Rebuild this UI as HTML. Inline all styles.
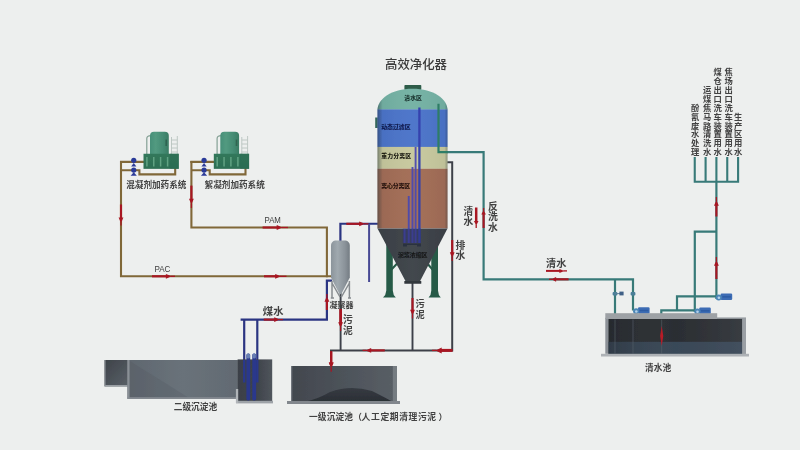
<!DOCTYPE html>
<html lang="zh"><head><meta charset="utf-8"><title>高效净化器 工艺流程图</title>
<style>
html,body{margin:0;padding:0;background:#edefee;}
body{width:800px;height:450px;overflow:hidden;font-family:"Liberation Sans","Noto Sans CJK SC",sans-serif;}
svg{display:block;position:absolute;left:0;top:0;}
svg text{font-family:"Liberation Sans","Noto Sans CJK SC",sans-serif;}
.sr{position:absolute;left:0;top:0;width:1px;height:1px;overflow:hidden;clip:rect(0 0 0 0);clip-path:inset(50%);opacity:0;white-space:nowrap;font-size:1px;}
</style></head><body>
<svg width="800" height="450" viewBox="0 0 800 450" role="img" aria-label="高效净化器 工艺流程图">
<defs>
<linearGradient id="gcyl" x1="0" x2="1" y1="0" y2="0"><stop offset="0" stop-color="#468f78"/><stop offset="0.3" stop-color="#529a80"/><stop offset="0.7" stop-color="#448b73"/><stop offset="1" stop-color="#3a7c64"/></linearGradient>
<linearGradient id="gbase" x1="0" x2="0" y1="0" y2="1"><stop offset="0" stop-color="#32785b"/><stop offset="1" stop-color="#2d6e53"/></linearGradient>
<linearGradient id="gshell" x1="0" x2="1" y1="0" y2="0"><stop offset="0" stop-color="#20303a" stop-opacity="0.55"/><stop offset="0.035" stop-color="#20303a" stop-opacity="0.3"/><stop offset="0.08" stop-color="#20303a" stop-opacity="0.05"/><stop offset="0.5" stop-color="#fff" stop-opacity="0.03"/><stop offset="0.95" stop-color="#20303a" stop-opacity="0.05"/><stop offset="1" stop-color="#20303a" stop-opacity="0.4"/></linearGradient>
<linearGradient id="gcone" x1="0" x2="1" y1="0" y2="0"><stop offset="0" stop-color="#393e44"/><stop offset="0.5" stop-color="#43484e"/><stop offset="1" stop-color="#393e44"/></linearGradient>
<linearGradient id="gcoag" x1="0" x2="1" y1="0" y2="0"><stop offset="0" stop-color="#8b949b"/><stop offset="0.35" stop-color="#a0a9af"/><stop offset="0.75" stop-color="#8a9299"/><stop offset="1" stop-color="#747c83"/></linearGradient>
<linearGradient id="gt2a" x1="0" x2="1" y1="0" y2="1"><stop offset="0" stop-color="#3e4349"/><stop offset="1" stop-color="#596067"/></linearGradient>
<linearGradient id="gt2b" x1="0" x2="1" y1="0" y2="0"><stop offset="0" stop-color="#5f676f"/><stop offset="0.5" stop-color="#69727a"/><stop offset="1" stop-color="#626a72"/></linearGradient>
<linearGradient id="gt2c" x1="0" x2="1" y1="0" y2="0"><stop offset="0" stop-color="#3b4047"/><stop offset="0.6" stop-color="#40454c"/><stop offset="1" stop-color="#50555c"/></linearGradient>
<linearGradient id="gt1" x1="0" x2="1" y1="0" y2="0"><stop offset="0" stop-color="#42474e"/><stop offset="0.5" stop-color="#4d535a"/><stop offset="1" stop-color="#595f66"/></linearGradient>
<linearGradient id="gmound" x1="0" x2="0" y1="0" y2="1"><stop offset="0" stop-color="#363b42"/><stop offset="1" stop-color="#2b2f35"/></linearGradient>
<linearGradient id="gpool" x1="0" x2="1" y1="0" y2="0"><stop offset="0" stop-color="#1c2026" stop-opacity="0.35"/><stop offset="0.5" stop-color="#555" stop-opacity="0"/><stop offset="1" stop-color="#606870" stop-opacity="0.25"/></linearGradient>
<filter id="soft" x="-2%" y="-2%" width="104%" height="104%"><feGaussianBlur stdDeviation="0.55"/></filter>
<filter id="softt" x="-2%" y="-2%" width="104%" height="104%"><feGaussianBlur stdDeviation="0.65"/></filter>
</defs>
<rect width="800" height="450" fill="#edefee"/>
<g filter="url(#soft)"><path d="M120.00 161.9H144.00 M121.00 170.2H139.40V174.4H175.20V168" fill="none" stroke="#806739" stroke-width="2.1" stroke-linejoin="miter"/><path d="M171.50 137V154M177.30 136V154M171.50 140H177.30M171.50 144H177.30M171.50 148H177.30M171.50 152H177.30" stroke="#b9c4bf" stroke-width="0.9" fill="none"/><path d="M146.80 154V138.5Q146.80 135.6 151.00 135.6" stroke="#84a094" stroke-width="1.2" fill="none"/><path d="M150.00 154V136Q150.00 131.8 154.00 131.8H164.80Q168.80 131.8 168.80 136V154Z" fill="url(#gcyl)"/><path d="M166.20 139.5V146" stroke="#2b5b49" stroke-width="1.6" opacity="0.75"/><rect x="143.50" y="153.75" width="35.3" height="15.1" fill="url(#gbase)"/><rect x="169.80" y="153.75" width="9" height="15.1" fill="#2a6a50" opacity="0.5"/><rect x="146.15" y="157" width="1.5" height="9.5" fill="#6aaa8b" opacity="0.85"/><rect x="153.00" y="157" width="1.5" height="9.5" fill="#6aaa8b" opacity="0.85"/><rect x="159.85" y="157" width="1.5" height="9.5" fill="#6aaa8b" opacity="0.85"/><rect x="166.85" y="157" width="1.5" height="9.5" fill="#6aaa8b" opacity="0.85"/><g fill="#2b3a98"><circle cx="133.75" cy="160.3" r="2.6"/><path d="M131.15 166.4L133.75 162.9L136.35 166.4Z"/><circle cx="133.75" cy="170.1" r="2.6"/><path d="M130.65 175.8L133.75 172.2L136.85 175.8Z"/></g><path d="M190.30 161.9H214.30 M191.30 170.2H209.70V174.4H245.50V168" fill="none" stroke="#806739" stroke-width="2.1" stroke-linejoin="miter"/><path d="M241.80 137V154M247.60 136V154M241.80 140H247.60M241.80 144H247.60M241.80 148H247.60M241.80 152H247.60" stroke="#b9c4bf" stroke-width="0.9" fill="none"/><path d="M217.10 154V138.5Q217.10 135.6 221.30 135.6" stroke="#84a094" stroke-width="1.2" fill="none"/><path d="M220.30 154V136Q220.30 131.8 224.30 131.8H235.10Q239.10 131.8 239.10 136V154Z" fill="url(#gcyl)"/><path d="M236.50 139.5V146" stroke="#2b5b49" stroke-width="1.6" opacity="0.75"/><rect x="213.80" y="153.75" width="35.3" height="15.1" fill="url(#gbase)"/><rect x="240.10" y="153.75" width="9" height="15.1" fill="#2a6a50" opacity="0.5"/><rect x="216.45" y="157" width="1.5" height="9.5" fill="#6aaa8b" opacity="0.85"/><rect x="223.30" y="157" width="1.5" height="9.5" fill="#6aaa8b" opacity="0.85"/><rect x="230.15" y="157" width="1.5" height="9.5" fill="#6aaa8b" opacity="0.85"/><rect x="237.15" y="157" width="1.5" height="9.5" fill="#6aaa8b" opacity="0.85"/><g fill="#2b3a98"><circle cx="204.05" cy="160.3" r="2.6"/><path d="M201.45 166.4L204.05 162.9L206.65 166.4Z"/><circle cx="204.05" cy="170.1" r="2.6"/><path d="M200.95 175.8L204.05 172.2L207.15 175.8Z"/></g><path d="M121 161V276.3H327.9" fill="none" stroke="#806739" stroke-width="2.1"/><path d="M191.4 161V227.5H326.9V276.3H332" fill="none" stroke="#806739" stroke-width="2.1"/><line x1="121.00" y1="204.50" x2="121.00" y2="218.50" stroke="#a81622" stroke-width="2.15"/><line x1="121.00" y1="222.30" x2="121.00" y2="225.50" stroke="#a81622" stroke-width="1.3"/><polygon points="121.00,223.30 118.60,217.50 123.40,217.50" fill="#a81622"/><line x1="191.40" y1="185.60" x2="191.40" y2="199.70" stroke="#a81622" stroke-width="2.15"/><line x1="191.40" y1="203.50" x2="191.40" y2="208.00" stroke="#a81622" stroke-width="1.3"/><polygon points="191.40,204.50 189.00,198.70 193.80,198.70" fill="#a81622"/><line x1="262.60" y1="227.50" x2="277.70" y2="227.50" stroke="#a81622" stroke-width="2.15"/><line x1="281.50" y1="227.50" x2="288.00" y2="227.50" stroke="#a81622" stroke-width="1.3"/><polygon points="282.50,227.50 276.70,229.90 276.70,225.10" fill="#a81622"/><line x1="152.00" y1="276.30" x2="166.90" y2="276.30" stroke="#a81622" stroke-width="2.15"/><line x1="170.70" y1="276.30" x2="175.00" y2="276.30" stroke="#a81622" stroke-width="1.3"/><polygon points="171.70,276.30 165.90,278.70 165.90,273.90" fill="#a81622"/><line x1="264.00" y1="276.30" x2="276.20" y2="276.30" stroke="#a81622" stroke-width="2.15"/><line x1="280.00" y1="276.30" x2="286.50" y2="276.30" stroke="#a81622" stroke-width="1.3"/><polygon points="281.00,276.30 275.20,278.70 275.20,273.90" fill="#a81622"/><g fill="#3c3c3c" aria-label="PAM"><title>PAM</title><text x="264.51" y="223.20" font-size="9.7" textLength="16.4" lengthAdjust="spacingAndGlyphs">PAM</text></g><g fill="#3c3c3c" aria-label="PAC"><title>PAC</title><text x="154.41" y="272.40" font-size="9.7" textLength="16" lengthAdjust="spacingAndGlyphs">PAC</text></g><path d="M240.6 319.6H326.9V280.6H332" fill="none" stroke="#2c3582" stroke-width="2.2"/><path d="M244.2 319V382M257.3 319V382" fill="none" stroke="#2c3582" stroke-width="2.2"/><path d="M340.4 242V223.75H378" fill="none" stroke="#2c3582" stroke-width="2.2"/><path d="M369.1 223.75V282" fill="none" stroke="#464a94" stroke-width="2"/><line x1="263.75" y1="319.60" x2="275.20" y2="319.60" stroke="#a81622" stroke-width="2.15"/><line x1="279.00" y1="319.60" x2="283.00" y2="319.60" stroke="#a81622" stroke-width="1.3"/><polygon points="280.00,319.60 274.20,322.00 274.20,317.20" fill="#a81622"/><line x1="326.90" y1="310.00" x2="326.90" y2="300.80" stroke="#a81622" stroke-width="2.15"/><line x1="326.90" y1="297.00" x2="326.90" y2="294.00" stroke="#a81622" stroke-width="1.3"/><polygon points="326.90,296.00 329.30,301.80 324.50,301.80" fill="#a81622"/><line x1="346.30" y1="223.80" x2="360.20" y2="223.80" stroke="#a81622" stroke-width="2.15"/><line x1="364.00" y1="223.80" x2="368.50" y2="223.80" stroke="#a81622" stroke-width="1.3"/><polygon points="365.00,223.80 359.20,226.20 359.20,221.40" fill="#a81622"/><path d="M340.6 292V350.4M412.5 283V350.4" fill="none" stroke="#3d4149" stroke-width="1.9"/><path d="M447 162.3H452.2V350.4H331V366" fill="none" stroke="#3d4149" stroke-width="2"/><line x1="340.60" y1="309.00" x2="340.60" y2="323.20" stroke="#a81622" stroke-width="2.80"/><line x1="340.60" y1="327.00" x2="340.60" y2="331.00" stroke="#a81622" stroke-width="1.3"/><polygon points="340.60,328.00 338.20,322.20 343.00,322.20" fill="#a81622"/><line x1="412.50" y1="298.00" x2="412.50" y2="310.70" stroke="#a81622" stroke-width="2.15"/><line x1="412.50" y1="314.50" x2="412.50" y2="318.50" stroke="#a81622" stroke-width="1.3"/><polygon points="412.50,315.50 410.10,309.70 414.90,309.70" fill="#a81622"/><line x1="452.20" y1="240.00" x2="452.20" y2="253.20" stroke="#a81622" stroke-width="2.15"/><line x1="452.20" y1="257.00" x2="452.20" y2="261.00" stroke="#a81622" stroke-width="1.3"/><polygon points="452.20,258.00 449.80,252.20 454.60,252.20" fill="#a81622"/><line x1="384.80" y1="350.40" x2="370.20" y2="350.40" stroke="#a81622" stroke-width="2.15"/><line x1="366.40" y1="350.40" x2="362.60" y2="350.40" stroke="#a81622" stroke-width="1.3"/><polygon points="365.40,350.40 371.20,348.00 371.20,352.80" fill="#a81622"/><line x1="452.60" y1="350.40" x2="440.70" y2="350.40" stroke="#a81622" stroke-width="3.00"/><line x1="436.50" y1="350.40" x2="432.00" y2="350.40" stroke="#a81622" stroke-width="1.3"/><polygon points="435.50,350.40 441.70,347.40 441.70,353.40" fill="#a81622"/><line x1="331.20" y1="351.30" x2="331.20" y2="363.40" stroke="#a81622" stroke-width="2.15"/><line x1="331.20" y1="367.20" x2="331.20" y2="371.70" stroke="#a81622" stroke-width="1.3"/><polygon points="331.20,368.20 328.80,362.40 333.60,362.40" fill="#a81622"/><path d="M438.5 152.2H483.6V279.3H633V310.5" fill="none" stroke="#377a78" stroke-width="2.2"/><path d="M615 279.3V314" fill="none" stroke="#377a78" stroke-width="2.2"/><path d="M661.3 314V310.3H696M677 310.3V296.4H717" fill="none" stroke="#377a78" stroke-width="2.2"/><path d="M694.8 312V231.7H716.4" fill="none" stroke="#377a78" stroke-width="2.2"/><path d="M716.4 299V181.4" fill="none" stroke="#377a78" stroke-width="2.2"/><path d="M694.75 157V181.7H738.1V157M705.6 157V181.7M716.4 157V181.7M727.25 157V181.7" fill="none" stroke="#377a78" stroke-width="2.1"/><line x1="476.20" y1="207.50" x2="476.20" y2="221.90" stroke="#a81622" stroke-width="2.50"/><line x1="476.20" y1="224.50" x2="476.20" y2="228.00" stroke="#a81622" stroke-width="1.3"/><polygon points="476.20,225.50 473.90,220.90 478.50,220.90" fill="#a81622"/><line x1="483.60" y1="228.00" x2="483.60" y2="213.60" stroke="#a81622" stroke-width="2.15"/><line x1="483.60" y1="211.00" x2="483.60" y2="208.00" stroke="#a81622" stroke-width="1.3"/><polygon points="483.60,210.00 485.90,214.60 481.30,214.60" fill="#a81622"/><line x1="546.00" y1="270.90" x2="560.40" y2="270.90" stroke="#a81622" stroke-width="2.00"/><line x1="563.40" y1="270.90" x2="567.00" y2="270.90" stroke="#a81622" stroke-width="1.3"/><polygon points="564.40,270.90 559.40,272.90 559.40,268.90" fill="#a81622"/><line x1="568.60" y1="279.30" x2="555.10" y2="279.30" stroke="#a81622" stroke-width="2.15"/><line x1="552.30" y1="279.30" x2="549.00" y2="279.30" stroke="#a81622" stroke-width="1.3"/><polygon points="551.30,279.30 556.10,276.90 556.10,281.70" fill="#a81622"/><line x1="716.40" y1="216.50" x2="716.40" y2="204.80" stroke="#a81622" stroke-width="2.15"/><line x1="716.40" y1="201.00" x2="716.40" y2="197.00" stroke="#a81622" stroke-width="1.3"/><polygon points="716.40,200.00 718.80,205.80 714.00,205.80" fill="#a81622"/><line x1="716.40" y1="279.00" x2="716.40" y2="264.80" stroke="#a81622" stroke-width="2.15"/><line x1="716.40" y1="261.00" x2="716.40" y2="257.00" stroke="#a81622" stroke-width="1.3"/><polygon points="716.40,260.00 718.80,265.80 714.00,265.80" fill="#a81622"/><rect x="612.6" y="292" width="4.8" height="3.4" rx="1" fill="#4b7f98"/><rect x="630.6" y="292" width="4.8" height="3.4" rx="1" fill="#4b7f98"/><path d="M615 293.6H620" stroke="#5a7f98" stroke-width="1"/><rect x="619.4" y="291.6" width="4.2" height="3.8" fill="#3f6186"/><rect x="638.00" y="307.30" width="11.6" height="6.4" rx="1.2" fill="#3c6cb4"/><rect x="639.80" y="309.80" width="8.6" height="1.5" fill="#2e5ca4"/><circle cx="636.10" cy="311.20" r="3" fill="#4c86b6"/><circle cx="636.30" cy="311.50" r="1.3" fill="#b4d0ea"/><rect x="699.20" y="307.60" width="11.6" height="6.4" rx="1.2" fill="#3c6cb4"/><rect x="701.00" y="310.10" width="8.6" height="1.5" fill="#2e5ca4"/><circle cx="697.30" cy="311.50" r="3" fill="#4c86b6"/><circle cx="697.50" cy="311.80" r="1.3" fill="#b4d0ea"/><rect x="720.60" y="293.60" width="11.6" height="6.4" rx="1.2" fill="#3c6cb4"/><rect x="722.40" y="296.10" width="8.6" height="1.5" fill="#2e5ca4"/><circle cx="718.70" cy="297.50" r="3" fill="#4c86b6"/><circle cx="718.90" cy="297.80" r="1.3" fill="#b4d0ea"/><path d="M386.3 240H392.8V290.5Q393 295 395.8 297.6H383Q386 295 386.3 290.5Z" fill="#265a47"/><path d="M431.3 240H438V290.5Q438.2 295 440.8 297.6H428.6Q431.2 295 431.3 290.5Z" fill="#265a47"/><path d="M391.5 269.5L398.5 262M432.5 269.5L426 262" stroke="#265a47" stroke-width="2" fill="none"/><rect x="404.4" y="85" width="16.9" height="5" rx="0.8" fill="#2d5c49"/><rect x="375.2" y="117.5" width="2.6" height="10.5" fill="#34655a"/><clipPath id="vc"><path d="M377.5 110C377.5 99 391.5 88.8 412.5 88.8C433.5 88.8 447.5 99 447.5 110V228.6H377.5Z"/></clipPath><g clip-path="url(#vc)"><rect x="377" y="88" width="71" height="21.6" fill="#73b1a3"/><rect x="377" y="109.4" width="71" height="37.6" fill="#4b73c9"/><rect x="377" y="146.9" width="71" height="21.9" fill="#c7c89d"/><rect x="377" y="168.75" width="71" height="60" fill="#a26c55"/><rect x="377" y="88" width="71" height="141" fill="url(#gshell)"/></g><path d="M377.5 228.5H447.5L420 281.3H405.6Z" fill="url(#gcone)"/><rect x="404.3" y="281" width="17" height="2.8" rx="0.6" fill="#33373d"/><path d="M419.4 107.5V243" stroke="#3442ae" stroke-width="2.3" fill="none"/><path d="M415.6 147V243M412.5 167V243M408.75 196V243M404.6 229V243" stroke="#4c4ab0" stroke-width="1.9" fill="none" opacity="0.95"/><rect x="402.8" y="228.6" width="18.2" height="14.6" fill="#2c3276" opacity="0.5"/><path d="M403 243.5H421V246.5H417V245H407V246.5H403Z" fill="#2c3040"/><path d="M438.5 103.8V152.2H448" stroke="#2f7d66" stroke-width="2.2" fill="none"/><path d="M332 281V298M349.4 281V298M332 283L340 297M349.4 283L341.4 297M330.8 298H334M348 298H351" stroke="#878c90" stroke-width="1.5" fill="none"/><path d="M331 246C331 242.6 333 240.6 336.4 240.6H344.4C347.8 240.6 349.8 242.6 349.8 246V277.5L341.6 293.6Q340.4 295 339.2 293.6L331 277.5Z" fill="url(#gcoag)"/><rect x="104.5" y="360" width="23.5" height="26.4" fill="url(#gt2a)"/><rect x="104.5" y="385" width="23.5" height="1.5" fill="#9a9fa4"/><rect x="104.5" y="360" width="1.2" height="26" fill="#8c9197" opacity="0.8"/><rect x="127.5" y="360" width="110.4" height="38.8" fill="url(#gt2b)"/><path d="M130 361L190 398.5H130Z" fill="#4c525a" opacity="0.22"/><rect x="127.5" y="397.2" width="110.4" height="1.7" fill="#858b92"/><rect x="127.3" y="360" width="2.2" height="38.8" fill="#8a9096"/><rect x="237.6" y="359.4" width="34.6" height="41.8" fill="url(#gt2c)"/><rect x="236" y="400.8" width="37" height="2.6" fill="#9ea3a8"/><rect x="235.9" y="389" width="2.3" height="14" fill="#b0b4b8"/><rect x="246.4" y="353.4" width="3.8" height="47" rx="1.6" fill="#29378c"/><rect x="252.3" y="353.4" width="3.8" height="47" rx="1.6" fill="#29378c"/><rect x="246.6" y="353.4" width="3.4" height="5.2" rx="1.5" fill="#6880b4"/><rect x="252.5" y="353.4" width="3.4" height="5.2" rx="1.5" fill="#6880b4"/><path d="M244.2 360V382.5M257.3 360V382.5" stroke="#29378c" stroke-width="2.3"/><rect x="291" y="366" width="106" height="35.4" fill="url(#gt1)"/><rect x="392.8" y="366" width="4.2" height="35.4" fill="#757b81"/><rect x="291" y="366" width="1.3" height="35.4" fill="#70767c"/><path d="M306 401.4Q318 399 330 392Q350 384.5 372 391Q384 397 392 401.4Z" fill="url(#gmound)"/><rect x="287" y="401" width="113" height="3" fill="#82878d"/><line x1="331.20" y1="351.30" x2="331.20" y2="363.40" stroke="#a81622" stroke-width="2.15"/><line x1="331.20" y1="367.20" x2="331.20" y2="371.70" stroke="#a81622" stroke-width="1.3"/><polygon points="331.20,368.20 328.80,362.40 333.60,362.40" fill="#a81622"/><rect x="605.3" y="317.8" width="140.6" height="36" fill="#8b9096"/><rect x="605.3" y="313.2" width="111.9" height="5.8" fill="#9da1a5"/><rect x="717" y="317.6" width="29" height="1.6" fill="#8f9499"/><rect x="608.6" y="319" width="133.6" height="35" fill="#2b2e33"/><rect x="608.6" y="341.8" width="133.6" height="12.2" fill="#394858"/><rect x="608.6" y="319" width="133.6" height="35" fill="url(#gpool)"/><rect x="742.2" y="318" width="3.8" height="36" fill="#9a9fa4"/><path d="M615 319.5V353.5M633 319.5V353.5M661.7 319.5V353.5" stroke="#5a646e" stroke-width="0.8" opacity="0.7"/><rect x="601" y="353.8" width="148" height="2.7" fill="#aeb2b6"/><path d="M661.7 326L663.3 336L661.7 346L660.1 336Z" fill="#b81a28"/></g>
<g filter="url(#softt)"><g fill="#3a3a3a" opacity="1" aria-label="高效净化器"><title>高效净化器</title><text x="385.00" y="68.91" font-size="12.4" font-weight="500">高效净化器</text></g><g fill="#424242" opacity="1" aria-label="混凝剂加药系统"><title>混凝剂加药系统</title><text x="126.20" y="188.21" font-size="8.6" font-weight="700">混凝剂加药系统</text></g><g fill="#424242" opacity="1" aria-label="絮凝剂加药系统"><title>絮凝剂加药系统</title><text x="204.60" y="188.21" font-size="8.6" font-weight="700">絮凝剂加药系统</text></g><g fill="#18302c" opacity="1" aria-label="清水区"><title>清水区</title><text x="404.30" y="100.07" font-size="5.9" font-weight="900">清水区</text></g><g fill="#0f1b4e" opacity="1" aria-label="动态过滤区"><title>动态过滤区</title><text x="381.20" y="129.47" font-size="5.9" font-weight="900">动态过滤区</text></g><g fill="#1a1a12" opacity="1" aria-label="重力分离区"><title>重力分离区</title><text x="381.20" y="158.27" font-size="5.9" font-weight="900" letter-spacing="0.1">重力分离区</text></g><g fill="#22100a" opacity="1" aria-label="离心分离区"><title>离心分离区</title><text x="381.20" y="188.27" font-size="5.9" font-weight="900" letter-spacing="-0.1">离心分离区</text></g><g fill="#0e1013" opacity="0.85" aria-label="泥浆浓缩区"><title>泥浆浓缩区</title><text x="398.00" y="256.52" font-size="5.9" font-weight="900">泥浆浓缩区</text></g><g fill="#404040" opacity="1" aria-label="凝聚器"><title>凝聚器</title><text x="329.60" y="307.52" font-size="8" font-weight="700" letter-spacing="-0.1">凝聚器</text></g><g fill="#424242" opacity="1" aria-label="污泥"><title>污泥</title><text font-size="9.8" font-weight="700"><tspan x="342.90" y="322.93">污</tspan><tspan x="342.90" y="334.13">泥</tspan></text></g><g fill="#424242" opacity="1" aria-label="污泥"><title>污泥</title><text font-size="9.2" font-weight="700"><tspan x="415.40" y="306.84">污</tspan><tspan x="415.40" y="317.54">泥</tspan></text></g><g fill="#424242" opacity="1" aria-label="煤水"><title>煤水</title><text x="262.80" y="315.21" font-size="10.3" font-weight="700" letter-spacing="0.2">煤水</text></g><g fill="#424242" opacity="1" aria-label="清水"><title>清水</title><text font-size="9.8" font-weight="700"><tspan x="463.50" y="214.83">清</tspan><tspan x="463.50" y="225.43">水</tspan></text></g><g fill="#424242" opacity="1" aria-label="反洗水"><title>反洗水</title><text font-size="9.8" font-weight="700"><tspan x="488.10" y="209.83">反</tspan><tspan x="488.10" y="220.43">洗</tspan><tspan x="488.10" y="231.03">水</tspan></text></g><g fill="#424242" opacity="1" aria-label="排水"><title>排水</title><text font-size="9.8" font-weight="700"><tspan x="455.40" y="248.53">排</tspan><tspan x="455.40" y="259.13">水</tspan></text></g><g fill="#424242" opacity="1" aria-label="清水"><title>清水</title><text x="546.00" y="267.28" font-size="10.2" font-weight="700">清水</text></g><g fill="#424242" opacity="1" aria-label="二级沉淀池"><title>二级沉淀池</title><text x="173.70" y="410.41" font-size="8.7" font-weight="700">二级沉淀池</text></g><g fill="#424242" opacity="1" aria-label="一级沉淀池（"><title>一级沉淀池（</title><text x="309.00" y="420.31" font-size="8.7" font-weight="700" letter-spacing="0.15">一级沉淀池（</text></g><g fill="#424242" opacity="1" aria-label="人工定期清理污泥"><title>人工定期清理污泥</title><text x="361.60" y="420.34" font-size="8.8" font-weight="700" letter-spacing="0.6">人工定期清理污泥</text></g><g fill="#424242" opacity="1" aria-label="）"><title>）</title><text x="438.60" y="420.31" font-size="8.7" font-weight="700">）</text></g><g fill="#424242" opacity="1" aria-label="清水池"><title>清水池</title><text x="645.00" y="371.01" font-size="8.7" font-weight="700">清水池</text></g><g fill="#424242" opacity="1" aria-label="酚氰废水处理"><title>酚氰废水处理</title><text font-size="8.3" font-weight="700"><tspan x="691.10" y="110.64">酚</tspan><tspan x="691.10" y="119.57">氰</tspan><tspan x="691.10" y="128.50">废</tspan><tspan x="691.10" y="137.43">水</tspan><tspan x="691.10" y="146.36">处</tspan><tspan x="691.10" y="155.29">理</tspan></text></g><g fill="#424242" opacity="1" aria-label="运煤焦马路清洗水"><title>运煤焦马路清洗水</title><text font-size="8.3" font-weight="700"><tspan x="703.10" y="92.78">运</tspan><tspan x="703.10" y="101.71">煤</tspan><tspan x="703.10" y="110.64">焦</tspan><tspan x="703.10" y="119.57">马</tspan><tspan x="703.10" y="128.50">路</tspan><tspan x="703.10" y="137.43">清</tspan><tspan x="703.10" y="146.36">洗</tspan><tspan x="703.10" y="155.29">水</tspan></text></g><g fill="#424242" opacity="1" aria-label="煤仓出口洗车装置用水"><title>煤仓出口洗车装置用水</title><text font-size="8.3" font-weight="700"><tspan x="713.60" y="74.92">煤</tspan><tspan x="713.60" y="83.85">仓</tspan><tspan x="713.60" y="92.78">出</tspan><tspan x="713.60" y="101.71">口</tspan><tspan x="713.60" y="110.64">洗</tspan><tspan x="713.60" y="119.57">车</tspan><tspan x="713.60" y="128.50">装</tspan><tspan x="713.60" y="137.43">置</tspan><tspan x="713.60" y="146.36">用</tspan><tspan x="713.60" y="155.29">水</tspan></text></g><g fill="#424242" opacity="1" aria-label="焦场出口洗车装置用水"><title>焦场出口洗车装置用水</title><text font-size="8.3" font-weight="700"><tspan x="724.60" y="74.92">焦</tspan><tspan x="724.60" y="83.85">场</tspan><tspan x="724.60" y="92.78">出</tspan><tspan x="724.60" y="101.71">口</tspan><tspan x="724.60" y="110.64">洗</tspan><tspan x="724.60" y="119.57">车</tspan><tspan x="724.60" y="128.50">装</tspan><tspan x="724.60" y="137.43">置</tspan><tspan x="724.60" y="146.36">用</tspan><tspan x="724.60" y="155.29">水</tspan></text></g><g fill="#424242" opacity="1" aria-label="生产区用水"><title>生产区用水</title><text font-size="8.3" font-weight="700"><tspan x="733.95" y="119.57">生</tspan><tspan x="733.95" y="128.50">产</tspan><tspan x="733.95" y="137.43">区</tspan><tspan x="733.95" y="146.36">用</tspan><tspan x="733.95" y="155.29">水</tspan></text></g></g>
</svg>
<div class="sr">高效净化器 清水区 动态过滤区 重力分离区 离心分离区 泥浆浓缩区 混凝剂加药系统 絮凝剂加药系统 PAM PAC 凝聚器 煤水 污泥 排水 清水 反洗水 二级沉淀池 一级沉淀池（人工定期清理污泥） 清水池 酚氰废水处理 运煤焦马路清洗水 煤仓出口洗车装置用水 焦场出口洗车装置用水 生产区用水</div>
</body></html>
